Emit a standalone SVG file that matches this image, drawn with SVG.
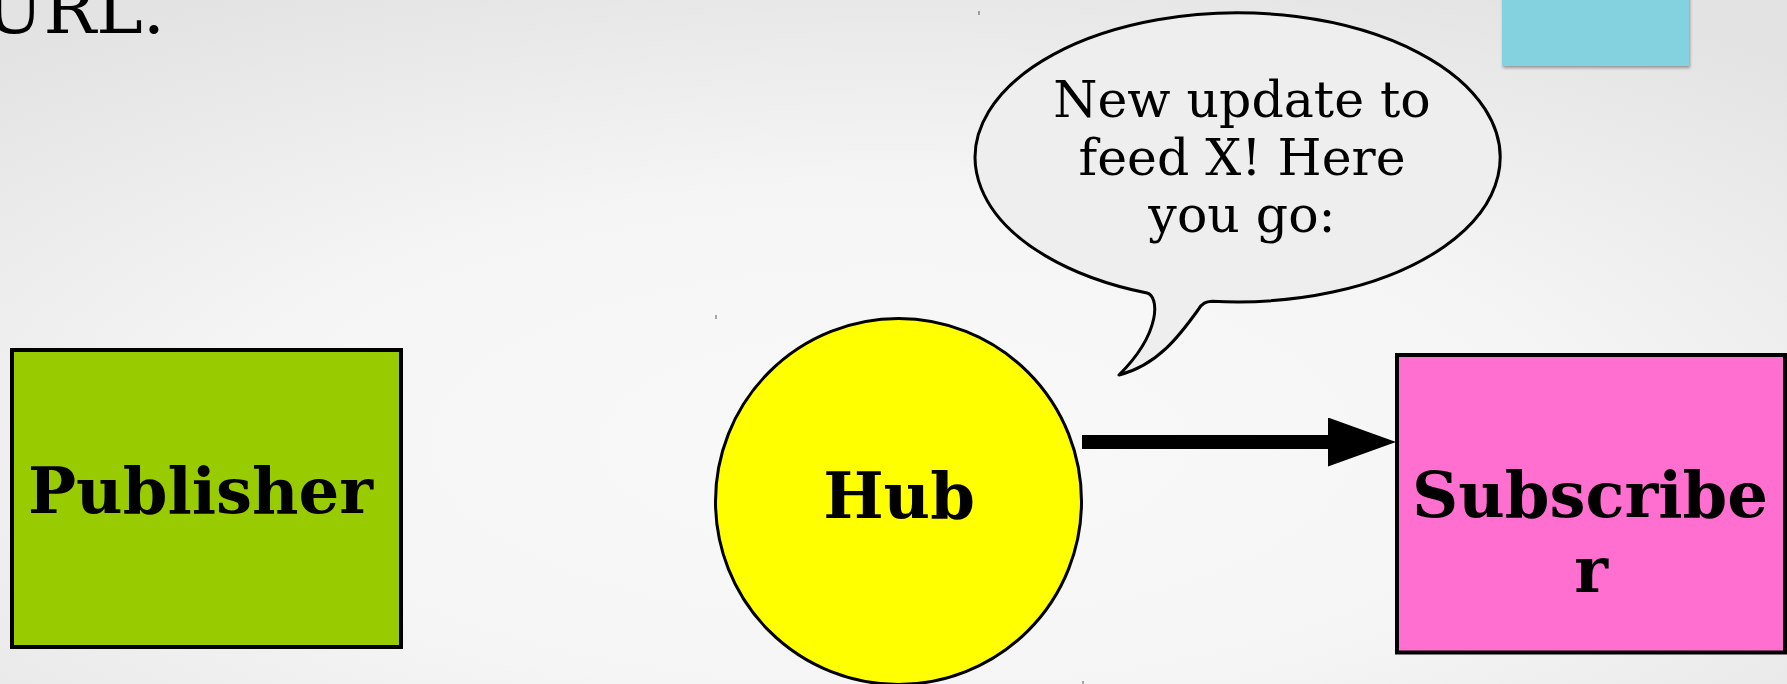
<svg xmlns="http://www.w3.org/2000/svg" width="1787" height="684" viewBox="0 0 1787 684">
  <defs>
    <radialGradient id="bg" cx="50%" cy="65%" r="75%">
      <stop offset="0" stop-color="#f9f9f9"/>
      <stop offset="0.5" stop-color="#f5f5f5"/>
      <stop offset="1" stop-color="#e3e3e3"/>
    </radialGradient>
    <filter id="shadow" x="-10%" y="-10%" width="130%" height="130%">
      <feDropShadow dx="1" dy="2" stdDeviation="1.5" flood-color="#000" flood-opacity="0.35"/>
    </filter>
    <marker id="arrowhead" markerUnits="userSpaceOnUse" markerWidth="70" markerHeight="50" refX="0" refY="24.5" orient="auto">
      <path d="M0,0 L68,24.5 L0,49 Z" fill="#000"/>
    </marker>
  </defs>
  <style>
    .label { font-family: "DejaVu Serif", "Liberation Serif", serif; fill: #000; }
    .bold { font-weight: bold; font-size: 64px; text-anchor: middle; }
    .speech { font-size: 50.5px; text-anchor: middle; }
    .node { stroke: #000; stroke-width: 4; }
    .tick { stroke: #555; stroke-width: 1; }
  </style>

  <rect x="0" y="0" width="1787" height="684" fill="url(#bg)"/>

  <g id="title-fragment">
    <text class="label" x="165" y="33" font-size="70" text-anchor="end">URL.</text>
  </g>

  <g id="cyan-box">
    <rect x="1502" y="-10" width="187" height="76" fill="#84d1df" filter="url(#shadow)"/>
  </g>

  <g id="ticks">
    <line class="tick" x1="979" y1="11" x2="979" y2="15"/>
    <line class="tick" x1="716" y1="315" x2="716" y2="319"/>
    <line class="tick" x1="1502" y1="373" x2="1502" y2="377"/>
    <line class="tick" x1="1083" y1="681" x2="1083" y2="684"/>
  </g>

  <g id="speech-bubble">
    <path d="M1212,301.2 A262.5,144.5 0 1 0 1147,293 C1159,296 1162,332 1119,375 C1158,365 1180,335 1198,310 C1202,303 1206,301.5 1212,301.2 Z" fill="#eeeeee" stroke="#000" stroke-width="3" stroke-linejoin="round"/>
    <text class="label speech" x="1242" y="117">New update to</text>
    <text class="label speech" x="1242" y="175">feed X! Here</text>
    <text class="label speech" x="1242" y="232">you go:</text>
  </g>

  <g id="connectors">
    <line x1="1082" y1="442" x2="1328" y2="442" stroke="#000" stroke-width="14" marker-end="url(#arrowhead)"/>
  </g>

  <g id="publisher">
    <rect class="node" x="12" y="350" width="389" height="297" fill="#99cc00"/>
    <text class="label bold" x="200.5" y="513">Publisher</text>
  </g>

  <g id="hub">
    <circle cx="898.5" cy="501.5" r="183" fill="#ffff00" stroke="#000" stroke-width="3"/>
    <text class="label bold" x="899" y="518">Hub</text>
  </g>

  <g id="subscriber">
    <rect class="node" x="1397" y="355" width="388" height="297.5" fill="#ff6fcf"/>
    <text class="label bold" x="1590" y="517">Subscribe</text>
    <text class="label bold" x="1591" y="592">r</text>
  </g>
</svg>
